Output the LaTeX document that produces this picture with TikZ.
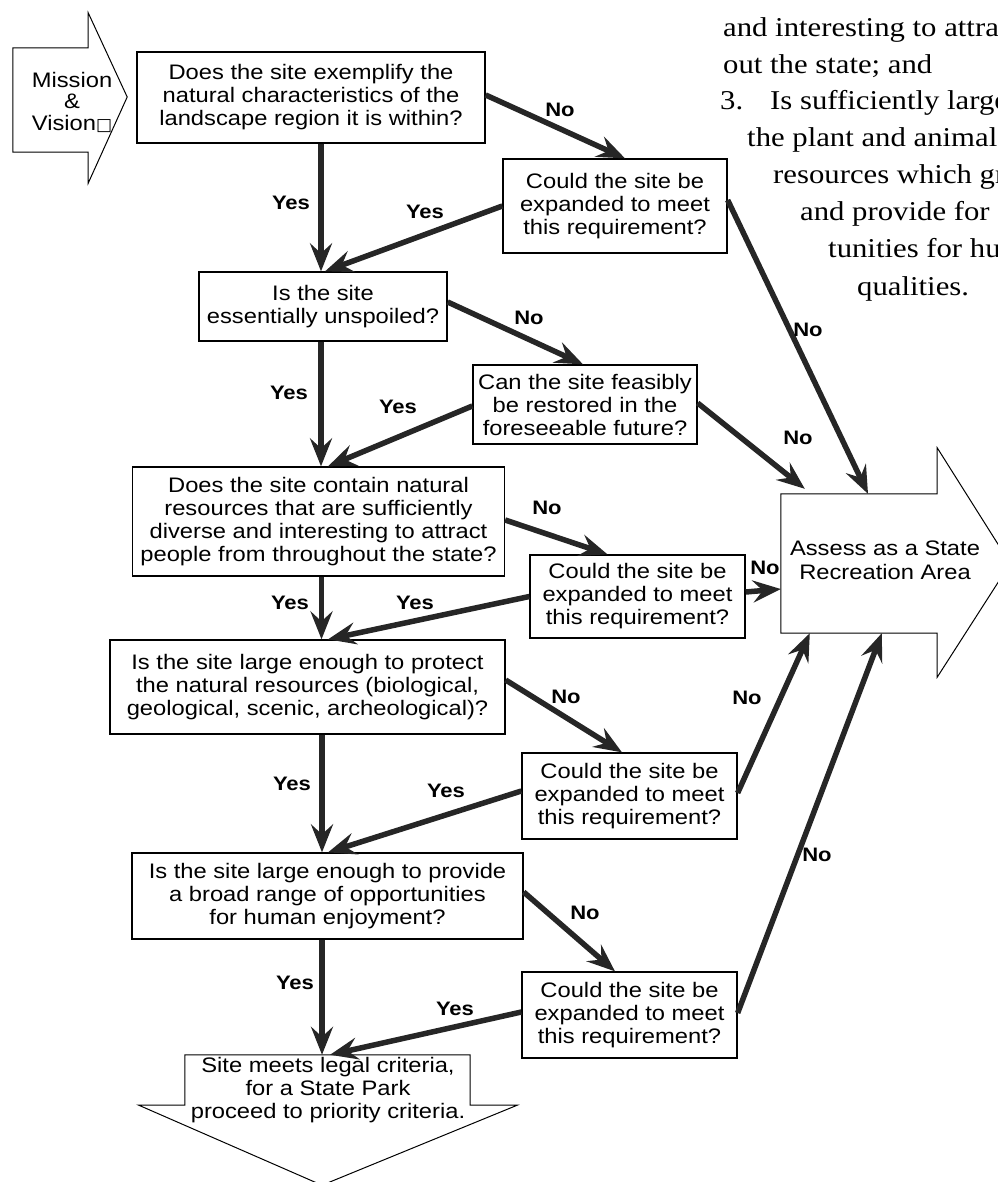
\documentclass[tikz,border=0pt]{standalone}
\usepackage{fontspec}
\setmainfont{Liberation Sans}[FakeStretch=1.13]
\newfontfamily\tnr{Liberation Serif}[FakeStretch=1.13]
\newfontfamily\symf{DejaVu Sans}
\usetikzlibrary{arrows.meta}
\newcommand\qfont{\fontsize{21}{23}\selectfont}
\newcommand\lfont{\fontsize{19.5}{20}\selectfont\bfseries}
\newcommand\tfont{\tnr\fontsize{27.2}{30}\selectfont}
\begin{document}
\begin{tikzpicture}[x=1pt,y=-1pt,
  box/.style={draw, line width=1.3pt, inner sep=0pt, align=center, font=\qfont},
  bodybox/.style={inner sep=0pt},
  txt/.style={inner sep=0pt, align=center, font=\qfont},
  lab/.style={font=\lfont, inner sep=0pt},
  side/.style={font=\tfont, inner sep=0pt, anchor=base west},
  arr/.style={line width=5.5pt, draw=black!85, -{Stealth[length=28pt,width=22pt,inset=10pt]}},
  outl/.style={draw, line width=1pt, line join=miter}]
\useasboundingbox (0,0) rectangle (997,1182);

% side text (Times)
\node[side] (s1) at (723,37) {and interesting to attra};
\node[side] (s2) at (723,73.5) {out the state; and};
\node[side] (s3a) at (720,110) {3.};
\node[side] (s3b) at (770,110) {Is sufficiently large};
\node[side] (s4) at (747,147) {the plant and animal};
\node[side] (s5) at (773,184) {resources which gr};
\node[side] (s6) at (800,221) {and provide for};
\node[side] (s7) at (828,258) {tunities for hu};
\node[side] (s8) at (857,295) {qualities.};

% Mission & Vision arrow
\node[bodybox, minimum width=75, minimum height=104] (mis) at (50.5,100) {};
\draw[outl] (mis.north west) -- (mis.north east) -- ([yshift=35]mis.north east)
  -- ([xshift=39,yshift=3]mis.east) -- ([yshift=-31]mis.south east)
  -- (mis.south east) -- (mis.south west) -- cycle;
\node[txt, font=\fontsize{21}{21.5}\selectfont] (mistxt) at (72,102) {Mission\\\&\\Vision{\symf\fontsize{17}{17}\selectfont □}};

% State Recreation Area arrow
\node[bodybox, minimum width=156, minimum height=139] (rec) at (859,563.5) {};
\draw[outl] (rec.north west) -- (rec.north east) -- ([yshift=46]rec.north east)
  -- ([xshift=73]rec.east) -- ([yshift=-44]rec.south east)
  -- (rec.south east) -- (rec.south west) -- cycle;
\node[txt, font=\fontsize{21}{24}\selectfont] (rectxt) at (885,560) {Assess as a State\\Recreation Area};

% final arrow
\node[bodybox, minimum width=285, minimum height=50] (fin) at (327.5,1080) {};
\draw[outl] (fin.south west) -- (fin.north west) -- (fin.north east) -- (fin.south east)
  -- ([xshift=47]fin.south east) -- ([xshift=-5.5,yshift=-80]fin.south)
  -- ([xshift=-46]fin.south west) -- cycle;
\node[txt] (fintxt) at (328,1090) {Site meets legal criteria,\\for a State Park\\proceed to priority criteria.};

% question boxes
\node[box, minimum width=348, minimum height=91] (b1) at (311,97.5) {Does the site exemplify the\\natural characteristics of the\\landscape region it is within?};
\node[box, minimum width=224, minimum height=94] (b2) at (615,206) {Could the site be\\expanded to meet\\this requirement?};
\node[box, minimum width=248, minimum height=69] (b3) at (323,306.5) {Is the site\\essentially unspoiled?};
\node[box, minimum width=224, minimum height=79] (b4) at (585,404.5) {Can the site feasibly\\be restored in the\\foreseeable future?};
\node[box, minimum width=372, minimum height=109] (b5) at (318.5,521.5) {Does the site contain natural\\resources that are sufficiently\\diverse and interesting to attract\\people from throughout the state?};
\node[box, minimum width=215, minimum height=83] (b6) at (637.5,596.5) {Could the site be\\expanded to meet\\this requirement?};
\node[box, minimum width=395, minimum height=94] (b7) at (307.5,687) {Is the site large enough to protect\\the natural resources (biological,\\geological, scenic, archeological)?};
\node[box, minimum width=215, minimum height=86] (b8) at (629.5,796) {Could the site be\\expanded to meet\\this requirement?};
\node[box, minimum width=391, minimum height=86] (b9) at (327.5,896) {Is the site large enough to provide\\a broad range of opportunities\\for human enjoyment?};
\node[box, minimum width=215, minimum height=86] (b10) at (629.5,1015) {Could the site be\\expanded to meet\\this requirement?};

% connectors
\draw[arr] ([xshift=10]b1.south) -- ([xshift=-2]b3.north);
\draw[arr] ([yshift=2.5]b1.east) -- ([xshift=10]b2.north);
\draw[arr] (b2.west) -- ([xshift=2]b3.north);
\draw[arr] ([yshift=6]b2.east) -- ([xshift=9]rec.north);
\draw[arr] ([xshift=-2]b3.south) -- ([xshift=2.5]b5.north);
\draw[arr] ([yshift=4.5]b3.east) -- ([xshift=-2]b4.north);
\draw[arr] ([yshift=-1.5]b4.west) -- ([xshift=9.5]b5.north);
\draw[arr] ([yshift=1.5]b4.east) -- ([xshift=24,yshift=5]rec.north west);
\draw[arr] ([xshift=3]b5.south) -- ([xshift=14]b7.north);
\draw[arr] ([yshift=1.5]b5.east) -- ([xshift=-30]b6.north);
\draw[arr] (b6.west) -- ([xshift=20.5]b7.north);
\draw[arr] ([yshift=4.5]b6.east) -- ([yshift=-25.5]rec.west);
\draw[arr] ([xshift=14.5]b7.south) -- ([xshift=-5.5]b9.north);
\draw[arr] ([yshift=7]b7.east) -- ([xshift=-7.5]b8.north);
\draw[arr] ([yshift=5]b8.west) -- ([xshift=0.5]b9.north);
\draw[arr] ([yshift=3]b8.east) -- ([xshift=29]rec.south west);
\draw[arr] ([xshift=-5.5]b9.south) -- ([xshift=-5.5]fin.north);
\draw[arr] ([yshift=4]b9.east) -- ([xshift=-14.5]b10.north);
\draw[arr] ([yshift=3]b10.west) -- ([xshift=2.5]fin.north);
\draw[arr] ([yshift=2]b10.east) -- ([xshift=101]rec.south west);

% labels
\node[lab] (l1) at (291,203) {Yes};
\node[lab] (l2) at (425,212) {Yes};
\node[lab] (l3) at (560,110) {No};
\node[lab] (l4) at (289,393) {Yes};
\node[lab] (l5) at (398,407) {Yes};
\node[lab] (l6) at (529,318) {No};
\node[lab] (l7) at (808,330) {No};
\node[lab] (l8) at (798,438) {No};
\node[lab] (l9) at (547,508) {No};
\node[lab] (l10) at (765,568) {No};
\node[lab] (l11) at (290,603) {Yes};
\node[lab] (l12) at (415,603) {Yes};
\node[lab] (l13) at (566,697) {No};
\node[lab] (l14) at (747,698) {No};
\node[lab] (l15) at (292,784) {Yes};
\node[lab] (l16) at (446,791) {Yes};
\node[lab] (l17) at (585,913) {No};
\node[lab] (l18) at (817,855) {No};
\node[lab] (l19) at (295,983) {Yes};
\node[lab] (l20) at (455,1009) {Yes};
\end{tikzpicture}
\end{document}
